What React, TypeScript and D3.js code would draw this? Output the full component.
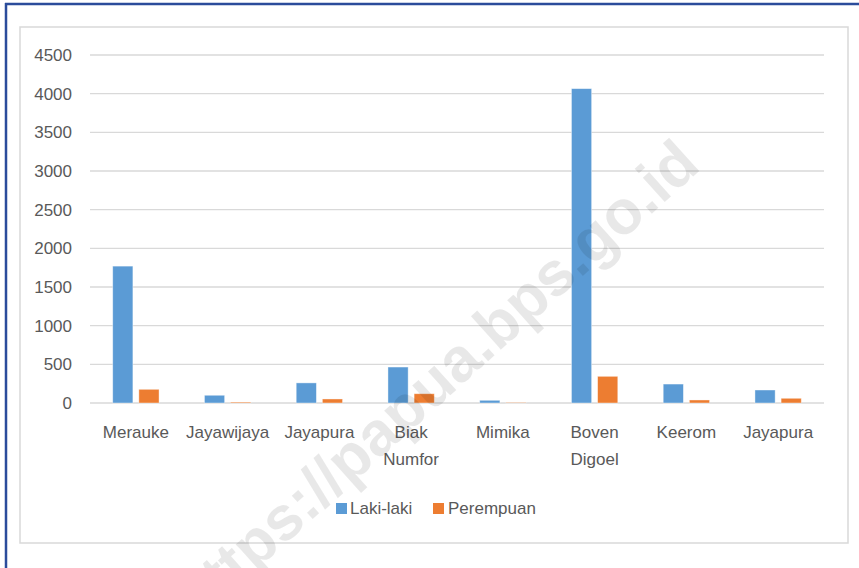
import * as d3 from "d3";
import React, { useEffect } from "react";

const categories = ["Merauke", "Jayawijaya", "Jayapura", "Biak\nNumfor", "Mimika", "Boven\nDigoel", "Keerom", "Jayapura"];
const lakiLaki = [1770, 100, 260, 465, 35, 4065, 245, 168];
const perempuan = [177, 12, 52, 120, 5, 345, 39, 61];
const yTicks = [0, 500, 1000, 1500, 2000, 2500, 3000, 3500, 4000, 4500];
const seriesNames = ["Laki-laki", "Perempuan"];
const colors = ["#5B9BD5", "#ED7D31"];

const W = 859;
const H = 568;
const plot = { left: 90, right: 824, top: 55, bottom: 403 };
const font = "'Liberation Sans', Arial, sans-serif";
const textColor = "#595959";

export default function App() {
  useEffect(() => {
    document.body.style.margin = "0";
  }, []);

  const x = d3
    .scaleBand<number>()
    .domain(categories.map((_, i) => i))
    .range([plot.left, plot.right]);

  const y = d3.scaleLinear().domain([0, 4500]).range([plot.bottom, plot.top]);

  const bw = x.bandwidth();
  const barW = bw * 0.22;
  const gap = bw * 0.065;

  const series = [lakiLaki, perempuan];

  return (
    <svg width={W} height={H} style={{ display: "block" }} fontFamily={font}>
      <rect x={0} y={0} width={W} height={H} fill="#fff" />
      {/* outer blue frame */}
      <line x1={5} x2={W} y1={4} y2={4} stroke="#2B4C9B" strokeWidth={2.5} />
      <line x1={6} x2={6} y1={3} y2={H} stroke="#2B4C9B" strokeWidth={2.5} />
      {/* chart area frame */}
      <rect x={20} y={27} width={828} height={516} fill="none" stroke="#D9D9D9" strokeWidth={1.5} />

      {/* gridlines + y labels */}
      {yTicks.map((t) => (
        <g key={t}>
          <line x1={plot.left} x2={plot.right} y1={y(t)} y2={y(t)} stroke="#D9D9D9" strokeWidth={1.3} />
          <text x={72} y={y(t)} dy="0.35em" textAnchor="end" fontSize={17} fill={textColor}>
            {t}
          </text>
        </g>
      ))}

      {/* bars */}
      {series.map((vals, s) =>
        vals.map((v, i) => {
          const cx = (x(i) ?? 0) + bw / 2;
          const bx = s === 0 ? cx - gap / 2 - barW : cx + gap / 2;
          return (
            <rect
              key={s + "-" + i}
              x={bx}
              y={y(v)}
              width={barW}
              height={y(0) - y(v)}
              fill={colors[s]}
              stroke="#fff"
              strokeOpacity={0.5}
              strokeWidth={0.8}
            />
          );
        })
      )}

      {/* category labels */}
      {categories.map((c, i) => (
        <text key={i} x={(x(i) ?? 0) + bw / 2} y={438} textAnchor="middle" fontSize={17} fill={textColor}>
          {c.split("\n").map((line, j) => (
            <tspan key={j} x={(x(i) ?? 0) + bw / 2} dy={j === 0 ? 0 : 27}>
              {line}
            </tspan>
          ))}
        </text>
      ))}

      {/* legend */}
      <rect x={336} y={503} width={11} height={11} fill={colors[0]} />
      <text x={350} y={508} dy="0.35em" fontSize={17} fill={textColor}>
        {seriesNames[0]}
      </text>
      <rect x={433} y={503} width={11} height={11} fill={colors[1]} />
      <text x={448} y={508} dy="0.35em" fontSize={17} fill={textColor}>
        {seriesNames[1]}
      </text>

      {/* watermark */}
      <text
        transform="translate(688,152) rotate(-42)"
        textAnchor="end"
        dy="0.35em"
        fontSize={62}
        fontWeight="bold"
        fill="#000"
        fillOpacity={0.09}
      >
        https://papua.bps.go.id
      </text>
    </svg>
  );
}
